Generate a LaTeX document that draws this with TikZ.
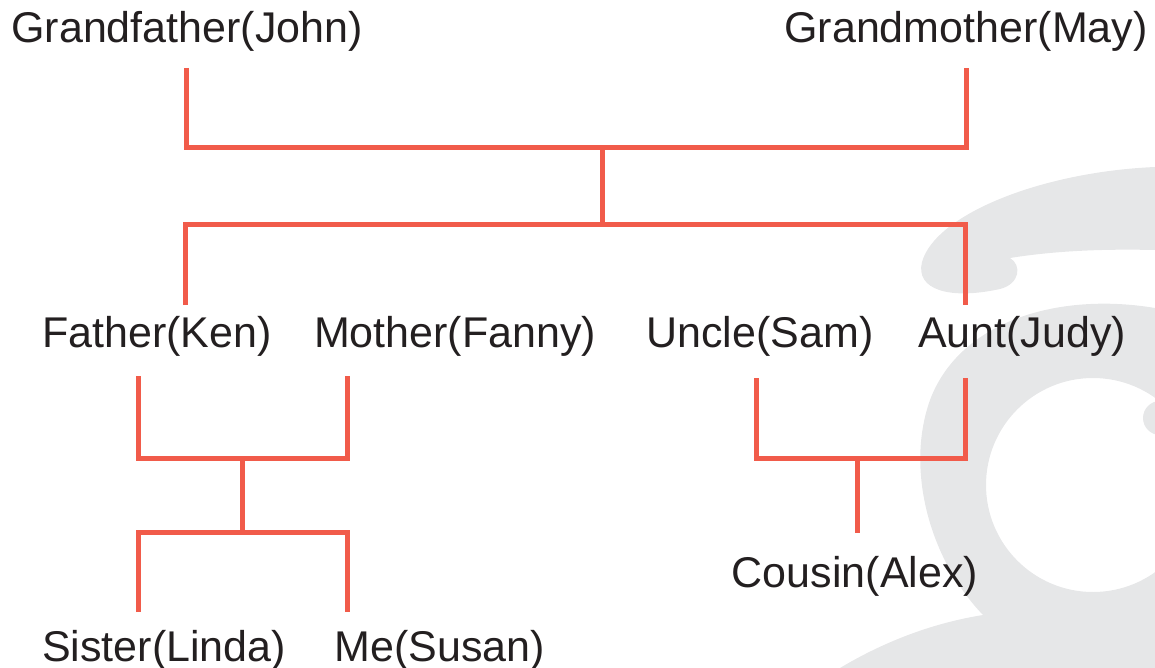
\documentclass[tikz,border=0pt]{standalone}
\usepackage{fontspec}
\setmainfont{Liberation Sans}
\definecolor{treered}{HTML}{F15B4A}
\definecolor{marktgray}{HTML}{E6E7E8}
\definecolor{nameblack}{HTML}{231F20}

\begin{document}
\begin{tikzpicture}[x=1pt, y=-1pt,
    person/.style={anchor=base, inner sep=0pt, text=nameblack, font=\fontsize{43}{50}\selectfont},
    famline/.style={treered, line width=5pt}]
        \useasboundingbox (0,0) rectangle (1155,668);

        % Background mark
        \begin{scope}
          \clip (0,0) rectangle (1155,668);
          \fill[marktgray] (1155,167) .. controls (1040,172) and (935,215) .. (922,262)
            .. controls (915,290) and (950,300) .. (1000,289)
            .. controls (1020,284) and (1022,265) .. (1010,258)
            .. controls (1060,250) and (1110,249) .. (1155,250) -- cycle;
          \fill[marktgray, even odd rule] (1155,308) .. controls (1060,292) and (960,320) .. (930,400)
            .. controls (905,470) and (930,560) .. (983,615)
            .. controls (920,625) and (870,650) .. (840,668)
            -- (1155,668) -- cycle
            (1093,485) circle[radius=107];
          \fill[marktgray] (1160,418) circle[radius=17];
        \end{scope}

        % Names
        \node[person] (gf) at (187,43) {Grandfather(John)};
        \node[person] (gm) at (966,43) {Grandmother(May)};
        \node[person] (fa) at (157,347) {Father(Ken)};
        \node[person] (mo) at (455,347) {Mother(Fanny)};
        \node[person] (un) at (760,347) {Uncle(Sam)};
        \node[person] (au) at (1022,347) {Aunt(Judy)};
        \node[person] (co) at (855,587) {Cousin(Alex)};
        \node[person] (si) at (164,661) {Sister(Linda)};
        \node[person] (me) at (440,661) {Me(Susan)};

        % Line ends
        \coordinate (gfB) at (186,68);
        \coordinate (gmB) at (966,68);
        \coordinate (gpJoin) at (602,148);
        \coordinate (kidsBar) at (602,225);
        \coordinate (faT) at (185,305);
        \coordinate (auT) at (965,305);
        \coordinate (faB) at (138,376);
        \coordinate (moB) at (347,376);
        \coordinate (parJoin) at (242,458);
        \coordinate (sibBar) at (242,532);
        \coordinate (siT) at (138,612);
        \coordinate (meT) at (347,612);
        \coordinate (unB) at (756,378);
        \coordinate (auB) at (965,378);
        \coordinate (ucJoin) at (857,458);
        \coordinate (coT) at (857,533);

        % Grandparents to their children
        \draw[famline] (gfB) |- (gpJoin) -| (gmB);
        \draw[famline] (gpJoin) -- (kidsBar);
        \draw[famline] (faT) |- (kidsBar) -| (auT);

        % Parents to Linda and Susan
        \draw[famline] (faB) |- (parJoin) -| (moB);
        \draw[famline] (parJoin) -- (sibBar);
        \draw[famline] (siT) |- (sibBar) -| (meT);

        % Uncle and aunt to Alex
        \draw[famline] (unB) |- (ucJoin) -| (auB);
        \draw[famline] (ucJoin) -- (coT);
      \end{tikzpicture}
\end{document}
